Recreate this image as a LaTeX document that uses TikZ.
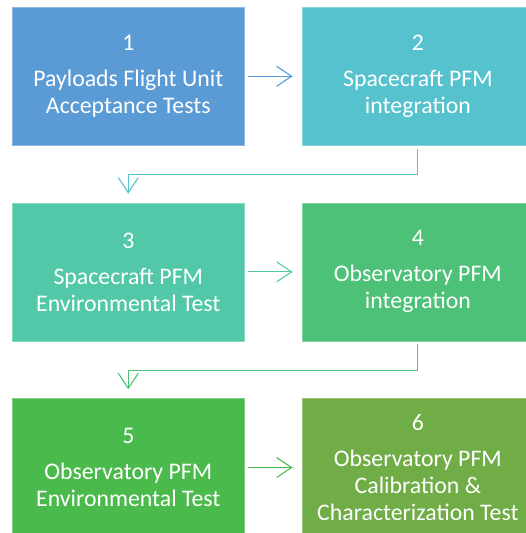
\documentclass[tikz,border=0pt]{standalone}
\usepackage{fontspec}
\setmainfont{Carlito}
\usepackage{xcolor}
\usepackage{tikz}
\usetikzlibrary{positioning,arrows.meta}

\definecolor{stepA}{HTML}{5B9BD5}
\definecolor{stepB}{HTML}{56C2CE}
\definecolor{stepC}{HTML}{52C8A8}
\definecolor{stepD}{HTML}{4DC177}
\definecolor{stepE}{HTML}{4BBA4C}
\definecolor{stepF}{HTML}{70AD47}

\tikzset{
  stepbox/.style={fill=#1, draw=#1!70!white, line width=0.6pt, text=white,
    minimum width=232pt, minimum height=138pt, inner sep=0pt,
    align=center, font=\fontsize{23.8}{27}\selectfont},
  flow/.style={draw=#1, line width=1.1pt, -{Straight Barb[length=15pt,width=20pt,line width=1.1pt]}}
}

\begin{document}
\begin{tikzpicture}
  \useasboundingbox (0,0) rectangle (526pt,-533pt);
  \clip (0,0) rectangle (526pt,-533pt);
  % boxes
  \node[stepbox=stepA, anchor=north west] (s1) at (12pt,-7pt)
    {1\\[9pt]Payloads Flight Unit\\Acceptance Tests};
  \node[stepbox=stepB, right=57pt of s1] (s2) {2\\[9pt]Spacecraft PFM\\integration};
  \node[stepbox=stepC, below=57pt of s1] (s3) {3\\[9pt]Spacecraft PFM\\Environmental Test};
  \node[stepbox=stepD, right=57pt of s3] (s4) {4\\[9pt]Observatory PFM\\integration};
  \node[stepbox=stepE, below=57pt of s3] (s5) {5\\[9pt]Observatory PFM\\Environmental Test};
  \node[stepbox=stepF, right=57pt of s5] (s6) {6\\[9pt]Observatory PFM\\Calibration \&\\Characterization Test};
  % arrows
  \draw[flow=stepA] ([xshift=3pt]s1.east) -- ([xshift=-9pt]s2.west);
  \draw[flow=stepB] ([yshift=-3pt]s2.south) -- ++(0,-26pt) -| ([yshift=9pt]s3.north);
  \draw[flow=stepC] ([xshift=3pt]s3.east) -- ([xshift=-9pt]s4.west);
  \draw[flow=stepD] ([yshift=-3pt]s4.south) -- ++(0,-26pt) -| ([yshift=9pt]s5.north);
  \draw[flow=stepE] ([xshift=3pt]s5.east) -- ([xshift=-9pt]s6.west);
\end{tikzpicture}
\end{document}
